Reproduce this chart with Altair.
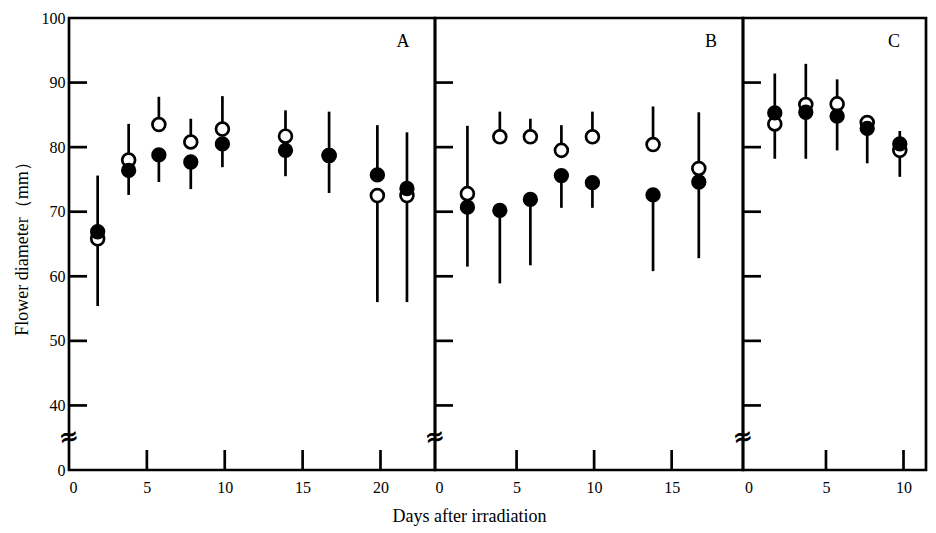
import altair as alt
import pandas as pd

SERIF = "Liberation Serif"

# ---------------- data ----------------
panels = ["A", "B", "C"]

# Panel A
a_day = [1.84, 3.83, 5.77, 7.82, 9.85, 13.9, 16.7, 19.8, 21.7]
a_open = [65.8, 78.0, 83.5, 80.8, 82.8, 81.7, 78.7, 72.5, 72.5]
a_open_lo = [55.4, 78.0, 83.5, 80.8, 82.8, 81.7, 72.9, 56.0, 56.0]
a_open_hi = [65.8, 83.6, 87.8, 84.4, 87.9, 85.7, 85.5, 72.5, 72.5]
a_fill = [66.9, 76.4, 78.8, 77.7, 80.5, 79.5, 78.7, 75.7, 73.6]
a_fill_lo = [66.9, 72.6, 74.6, 73.5, 76.9, 75.5, 78.7, 75.7, 73.6]
a_fill_hi = [75.6, 76.4, 78.8, 77.7, 80.5, 79.5, 78.7, 83.4, 82.3]

# Panel B
b_day = [1.83, 3.92, 5.89, 7.89, 9.89, 13.8, 16.75]
b_open = [72.8, 81.6, 81.6, 79.5, 81.6, 80.4, 76.7]
b_open_lo = [72.8, 81.6, 81.6, 79.5, 81.6, 80.4, 76.7]
b_open_hi = [83.3, 85.5, 84.4, 83.4, 85.5, 86.3, 85.4]
b_fill = [70.7, 70.2, 71.9, 75.6, 74.5, 72.6, 74.6]
b_fill_lo = [61.5, 58.9, 61.7, 70.6, 70.6, 60.8, 62.8]
b_fill_hi = [70.7, 70.2, 71.9, 75.6, 74.5, 72.6, 74.6]

# Panel C
c_day = [1.70, 3.70, 5.72, 7.66, 9.76]
c_open = [83.6, 86.6, 86.7, 83.8, 79.5]
c_open_lo = [78.2, 86.6, 86.7, 83.8, 75.4]
c_open_hi = [83.6, 92.9, 90.5, 83.8, 79.5]
c_fill = [85.3, 85.4, 84.8, 82.9, 80.5]
c_fill_lo = [85.3, 78.2, 79.5, 77.5, 80.5]
c_fill_hi = [91.4, 85.4, 84.8, 82.9, 82.5]

# axes
y_tick_values = [30, 40, 50, 60, 70, 80, 90, 100]   # 30 is shown as "0" (broken axis)
y_inner_ticks = [40, 50, 60, 70, 80, 90]
axis_break = [35]
x_labels = {"A": [0, 5, 10, 15, 20], "B": [0, 5, 10, 15], "C": [0, 5, 10]}
x_inner_ticks = {"A": [5, 10, 15, 20], "B": [5, 10, 15], "C": [5, 10]}
x_domains = {"A": [0, 23.5], "B": [-0.26, 19.6], "C": [-0.35, 11.45]}
widths = {"A": 366, "B": 308, "C": 183}
H = 452


def series_rows(panel, day, mean, lo, hi, kind):
    return [dict(panel=panel, day=d, mean=m, lo=l, hi=h, kind=kind)
            for d, m, l, h in zip(day, mean, lo, hi)]


rows = []
rows += series_rows("A", a_day, a_open, a_open_lo, a_open_hi, "open")
rows += series_rows("A", a_day, a_fill, a_fill_lo, a_fill_hi, "filled")
rows += series_rows("B", b_day, b_open, b_open_lo, b_open_hi, "open")
rows += series_rows("B", b_day, b_fill, b_fill_lo, b_fill_hi, "filled")
rows += series_rows("C", c_day, c_open, c_open_lo, c_open_hi, "open")
rows += series_rows("C", c_day, c_fill, c_fill_lo, c_fill_hi, "filled")
df = pd.DataFrame(rows)

yscale = alt.Scale(domain=[30, 100], nice=False, zero=False)


def make_panel(p):
    d = df[df.panel == p]
    xs = alt.Scale(domain=x_domains[p], nice=False, zero=False)
    w = widths[p]
    if p == "A":
        yaxis = alt.Axis(values=y_tick_values, ticks=False, domain=False, grid=False,
                         labelExpr="datum.value == 30 ? '0' : datum.label",
                         labelFont=SERIF, labelFontSize=16, labelColor="black",
                         labelPadding=4,
                         title="Flower diameter（mm）", titleFont=SERIF,
                         titleFontSize=18, titleFontWeight="normal",
                         titleColor="black", titlePadding=10)
    else:
        yaxis = None
    xaxis = alt.Axis(values=x_labels[p], ticks=False, domain=False, grid=False,
                     labelFont=SERIF, labelFontSize=16, labelColor="black",
                     labelPadding=9, title=None)

    def X(field):
        return alt.X(field, scale=xs, axis=xaxis)

    def Y(field):
        return alt.Y(field, scale=yscale, axis=yaxis)

    base = alt.Chart(d)
    err = base.mark_rule(color="black", strokeWidth=2.7).encode(
        x=X("day:Q"), y=Y("lo:Q"), y2="hi:Q",
    )
    opn = base.transform_filter(alt.datum.kind == "open").mark_point(
        shape="circle", filled=True, fill="white", stroke="black",
        strokeWidth=2.7, size=165, opacity=1
    ).encode(x=X("day:Q"), y=Y("mean:Q"))
    fil = base.transform_filter(alt.datum.kind == "filled").mark_circle(
        color="black", size=235, opacity=1
    ).encode(x=X("day:Q"), y=Y("mean:Q"))

    yt = alt.Chart(pd.DataFrame({"v": y_inner_ticks})).mark_rule(
        color="black", strokeWidth=2.7
    ).encode(y=Y("v:Q"), x=alt.value(0), x2=alt.value(18))
    xt = alt.Chart(pd.DataFrame({"t": x_inner_ticks[p]})).mark_rule(
        color="black", strokeWidth=2.7
    ).encode(x=X("t:Q"), y=alt.value(H - 20), y2=alt.value(H))
    brk = alt.Chart(pd.DataFrame({"b": axis_break})).mark_text(
        text="≈", fontSize=24, fontWeight="bold", font="DejaVu Sans", color="black",
        angle=350
    ).encode(y=Y("b:Q"), x=alt.value(0))
    lab = alt.Chart(pd.DataFrame({"p": [p]})).mark_text(
        font=SERIF, fontSize=18, color="black", align="center", baseline="middle"
    ).encode(text="p:N", x=alt.value(w - 32), y=alt.value(24))

    return alt.layer(err, opn, fil, yt, xt, brk, lab).properties(width=w, height=H)


chart = alt.hconcat(*[make_panel(p) for p in panels], spacing=0, bounds="flush").resolve_scale(
    x="independent", y="independent"
).properties(
    title=alt.TitleParams("Days after irradiation", orient="bottom", anchor="middle",
                          font=SERIF, fontSize=18, fontWeight="normal",
                          color="black", offset=12),
    padding={"left": 3, "top": 0, "right": 0, "bottom": 0},
).configure(background="white").configure_view(stroke="black", strokeWidth=2.7)

chart.save("out.html", embed_options={"renderer": "svg", "actions": False})
